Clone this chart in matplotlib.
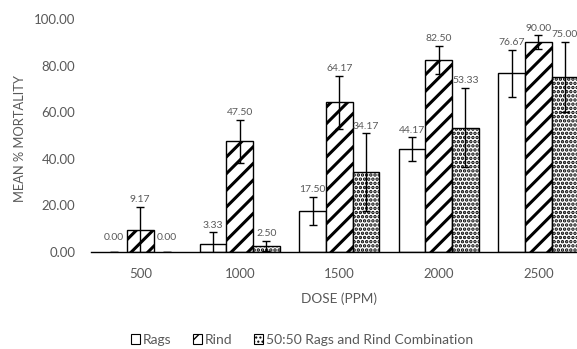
import matplotlib
matplotlib.use("Agg")
import matplotlib.pyplot as plt
from matplotlib.patches import Patch
import numpy as np

plt.rcParams['font.family'] = ['Lato', 'DejaVu Sans']

doses = ["500", "1000", "1500", "2000", "2500"]
series_names = ["Rags", "Rind", "50:50 Rags and Rind Combination"]
rags = [0.00, 3.33, 17.50, 44.17, 76.67]
rind = [9.17, 47.50, 64.17, 82.50, 90.00]
combo = [0.00, 2.50, 34.17, 53.33, 75.00]
rags_err = [0, 5.0, 6.0, 5.0, 10.0]
rind_err = [10.0, 9.2, 11.5, 6.0, 3.0]
combo_err = [0, 2.2, 16.7, 17.0, 15.0]
yticks = [0, 20, 40, 60, 80, 100]

W, H = 577, 349
fig = plt.figure(figsize=(W / 100, H / 100), dpi=100)
ax = fig.add_axes([90.5 / W, (H - 251.7) / H, 497.5 / W, (251.7 - 19) / H])

gray = "#595959"
x = np.arange(len(doses))
bw = 0.268
values = [rags, rind, combo]
errs = [rags_err, rind_err, combo_err]
hatches = [None, "//", "...."]
hatch_lws = [1.0, 2.2, 1.7]
handles = []
for i, (vals, er, h, hl, name) in enumerate(zip(values, errs, hatches, hatch_lws, series_names)):
    pos = x + (i - 1) * bw
    with plt.rc_context({'hatch.linewidth': hl}):
        bars = ax.bar(pos, vals, bw, color="white", edgecolor="black", linewidth=1.0,
                      hatch=h, zorder=2)
        handles.append(Patch(facecolor="white", edgecolor="black", linewidth=0.8,
                             hatch=h, label=name))
    for b, v in zip(bars, vals):
        if hasattr(b, "set_hatch_linewidth"):
            b.set_hatch_linewidth(hl)
        if v == 0:
            b.set_visible(False)
    if hasattr(handles[-1], "set_hatch_linewidth"):
        handles[-1].set_hatch_linewidth(hl)
    ax.errorbar(pos, vals, yerr=er, fmt="none", ecolor="black", elinewidth=1.0,
                capsize=3.2, capthick=1.0, zorder=3)
    for p, v, e in zip(pos, vals, er):
        off = 2.0 if v > 0 else 7.0
        ax.annotate(f"{v:.2f}", (p, v + e), xytext=(0, off), textcoords="offset points",
                    ha="center", va="bottom", fontsize=7.5, color=gray, zorder=4)

ax.set_xlim(-0.5, len(doses) - 0.5)
ax.set_ylim(0, 100)
ax.set_xticks(x)
ax.set_xticklabels(doses)
ax.set_yticks(yticks)
ax.set_yticklabels([f"{t:.2f}" for t in yticks])
ax.tick_params(axis="both", length=0, labelsize=9.5, colors=gray)
ax.tick_params(axis="x", pad=12)
ax.tick_params(axis="y", pad=11)
for s in ["top", "right", "left"]:
    ax.spines[s].set_visible(False)
ax.spines["bottom"].set_color("black")
ax.spines["bottom"].set_linewidth(1.0)
ax.spines["bottom"].set_zorder(5)

fig.text(20 / W, 1 - 138 / H, "MEAN % MORTALITY", rotation=90, ha="center", va="center",
         fontsize=9.3, color=gray)
fig.text(339 / W, 1 - 299 / H, "DOSE (PPM)", ha="center", va="center", fontsize=9.8, color=gray)

leg = fig.legend(handles=handles, loc="center", bbox_to_anchor=(302 / W, 1 - 340 / H), ncol=3,
                 frameon=False, fontsize=10, handlelength=0.7, handleheight=0.7,
                 handletextpad=0.2, columnspacing=1.5)
for t in leg.get_texts():
    t.set_color(gray)

fig.savefig("out.png", dpi=100)
